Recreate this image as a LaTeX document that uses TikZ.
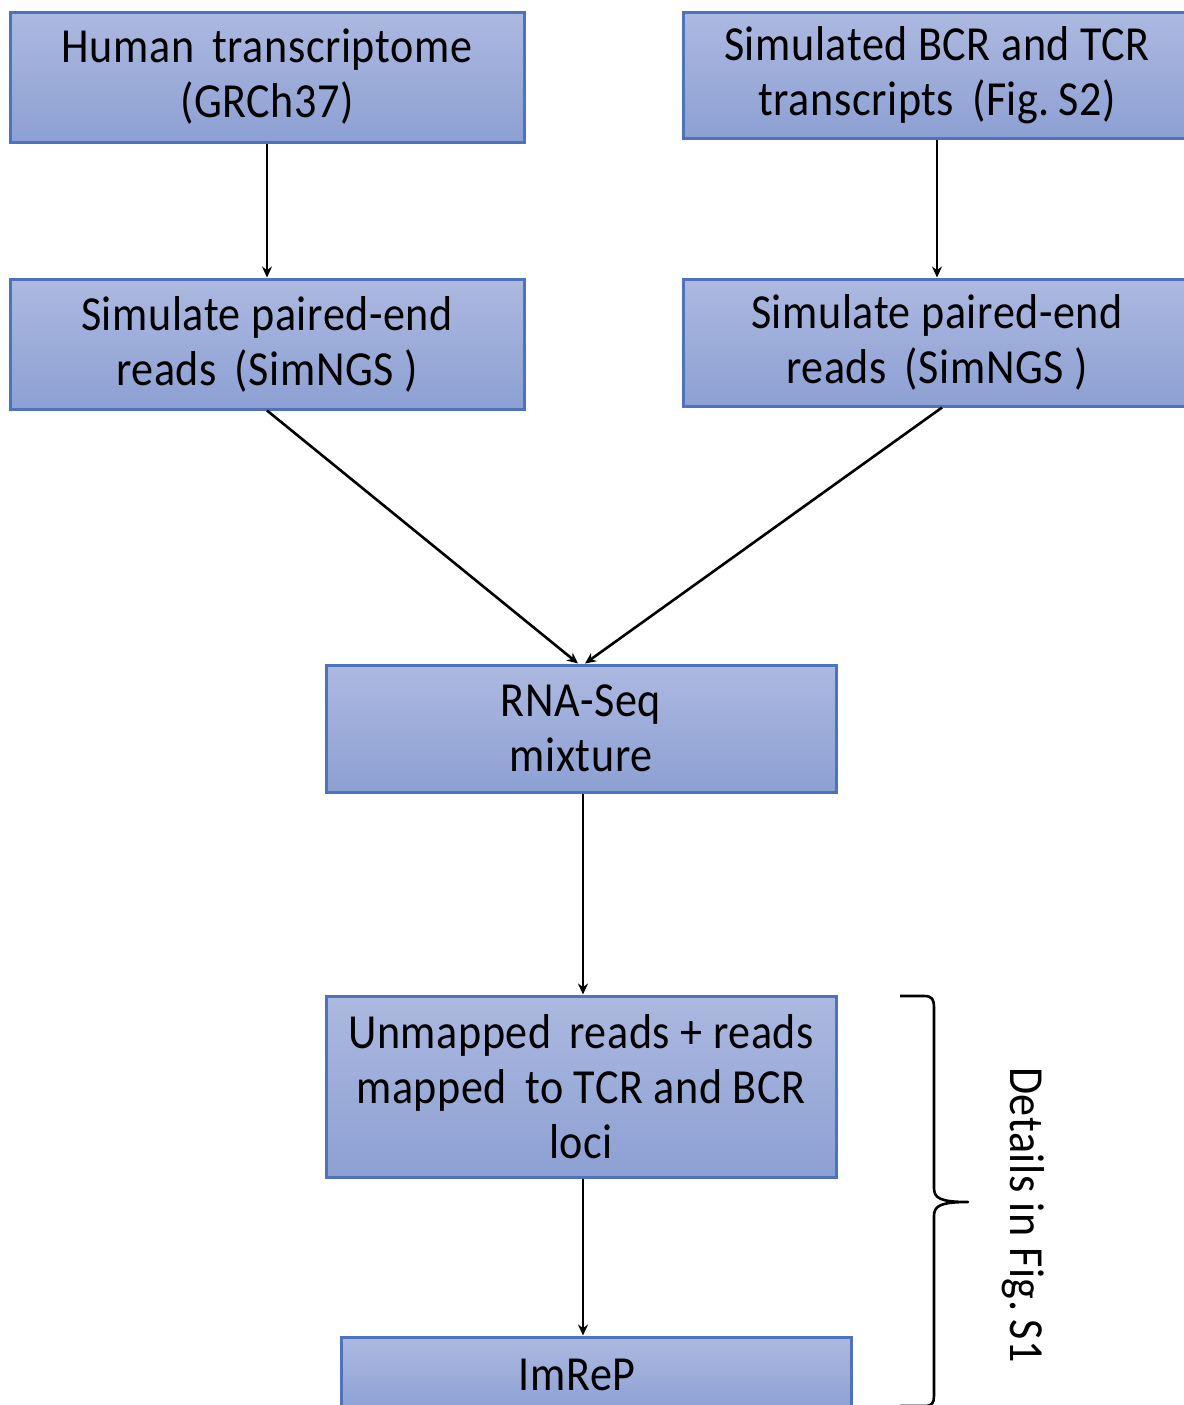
\documentclass[tikz,border=0pt]{standalone}
\usepackage{fontspec}
\setmainfont{Carlito}
\newfontfamily\boxfont[FakeStretch=0.9,LetterSpace=1.2]{Carlito}
\usetikzlibrary{arrows.meta}
\definecolor{topc}{RGB}{172,185,224}
\definecolor{botc}{RGB}{141,160,211}
\definecolor{bordc}{RGB}{79,114,190}
\newcommand{\bfsz}{\boxfont\fontsize{24.5pt}{27.5pt}\selectfont}
\newcommand{\wgap}{\hspace{9pt}}
\begin{document}
\begin{tikzpicture}[x=0.5pt,y=-0.5pt,
  flowbox/.style={draw=bordc,line width=1.5pt,top color=topc,bottom color=botc,
    inner sep=0pt,align=center,font=\bfsz},
  plaintext/.style={inner sep=0pt,font=\bfsz},
  conn/.style={draw=black,line width=1.3pt,-{Stealth[length=5.5pt,width=5pt]}}]
\useasboundingbox (0,0) rectangle (1184,1405);
\clip (0,0) rectangle (1184,1405);
\fill[white] (0,0) rectangle (1184,1405);

\node[flowbox,minimum width=257pt,minimum height=65pt] (b1) at (267,77)
  {Human\wgap transcriptome\\(GRCh37)};
\node[flowbox,minimum width=254pt,minimum height=63pt] (b2) at (937,75)
  {Simulated BCR and TCR\\transcripts\wgap (Fig.\,S2)};
\node[flowbox,minimum width=257pt,minimum height=65pt] (b3) at (267,344)
  {Simulate paired-end\\reads\wgap (SimNGS )};
\node[flowbox,minimum width=254pt,minimum height=63.5pt] (b4) at (937,342.5)
  {Simulate paired-end\\reads\wgap (SimNGS )};
\node[flowbox,minimum width=255pt,minimum height=63.5pt] (b5) at (581,728.5)
  {RNA-Seq\\mixture};
\node[flowbox,minimum width=255pt,minimum height=90.5pt] (b6) at (581,1086.5)
  {Unmapped\wgap reads + reads\\mapped\wgap to TCR and BCR\\loci};
\node[flowbox,minimum width=255pt,minimum height=38pt] (b7) at (596,1375) {};
\node[plaintext] (t7) at (577,1375) {ImReP};

\draw[conn] (b1.south) -- (b3.north);
\draw[conn] (b2.south) -- (b4.north);
\draw[conn] (b3.south) -- ([xshift=-1.5pt]b5.north);
\draw[conn] ([xshift=2.5pt]b4.south) -- ([xshift=2pt]b5.north);
\draw[conn] ([xshift=1pt]b5.south) -- ([xshift=1pt]b6.north);
\draw[conn] ([xshift=1pt]b6.south) -- ([xshift=1pt]b6.south |- b7.north);

\coordinate (brtip) at (968,1202);
\draw[line width=1.3pt,line join=round]
  (900,996) -- (924,996) .. controls (932,996) and (934,999) .. (934,1008)
  -- (934,1188) .. controls (934,1198) and (940,1202) .. (brtip)
  .. controls (940,1202) and (934,1206) .. (934,1216)
  -- (934,1396) .. controls (934,1403) and (932,1406) .. (924,1406) -- (900,1406);
\node[plaintext,rotate=-90] (det) at (1023,1215) {Details in Fig.\,S1};
\end{tikzpicture}
\end{document}
